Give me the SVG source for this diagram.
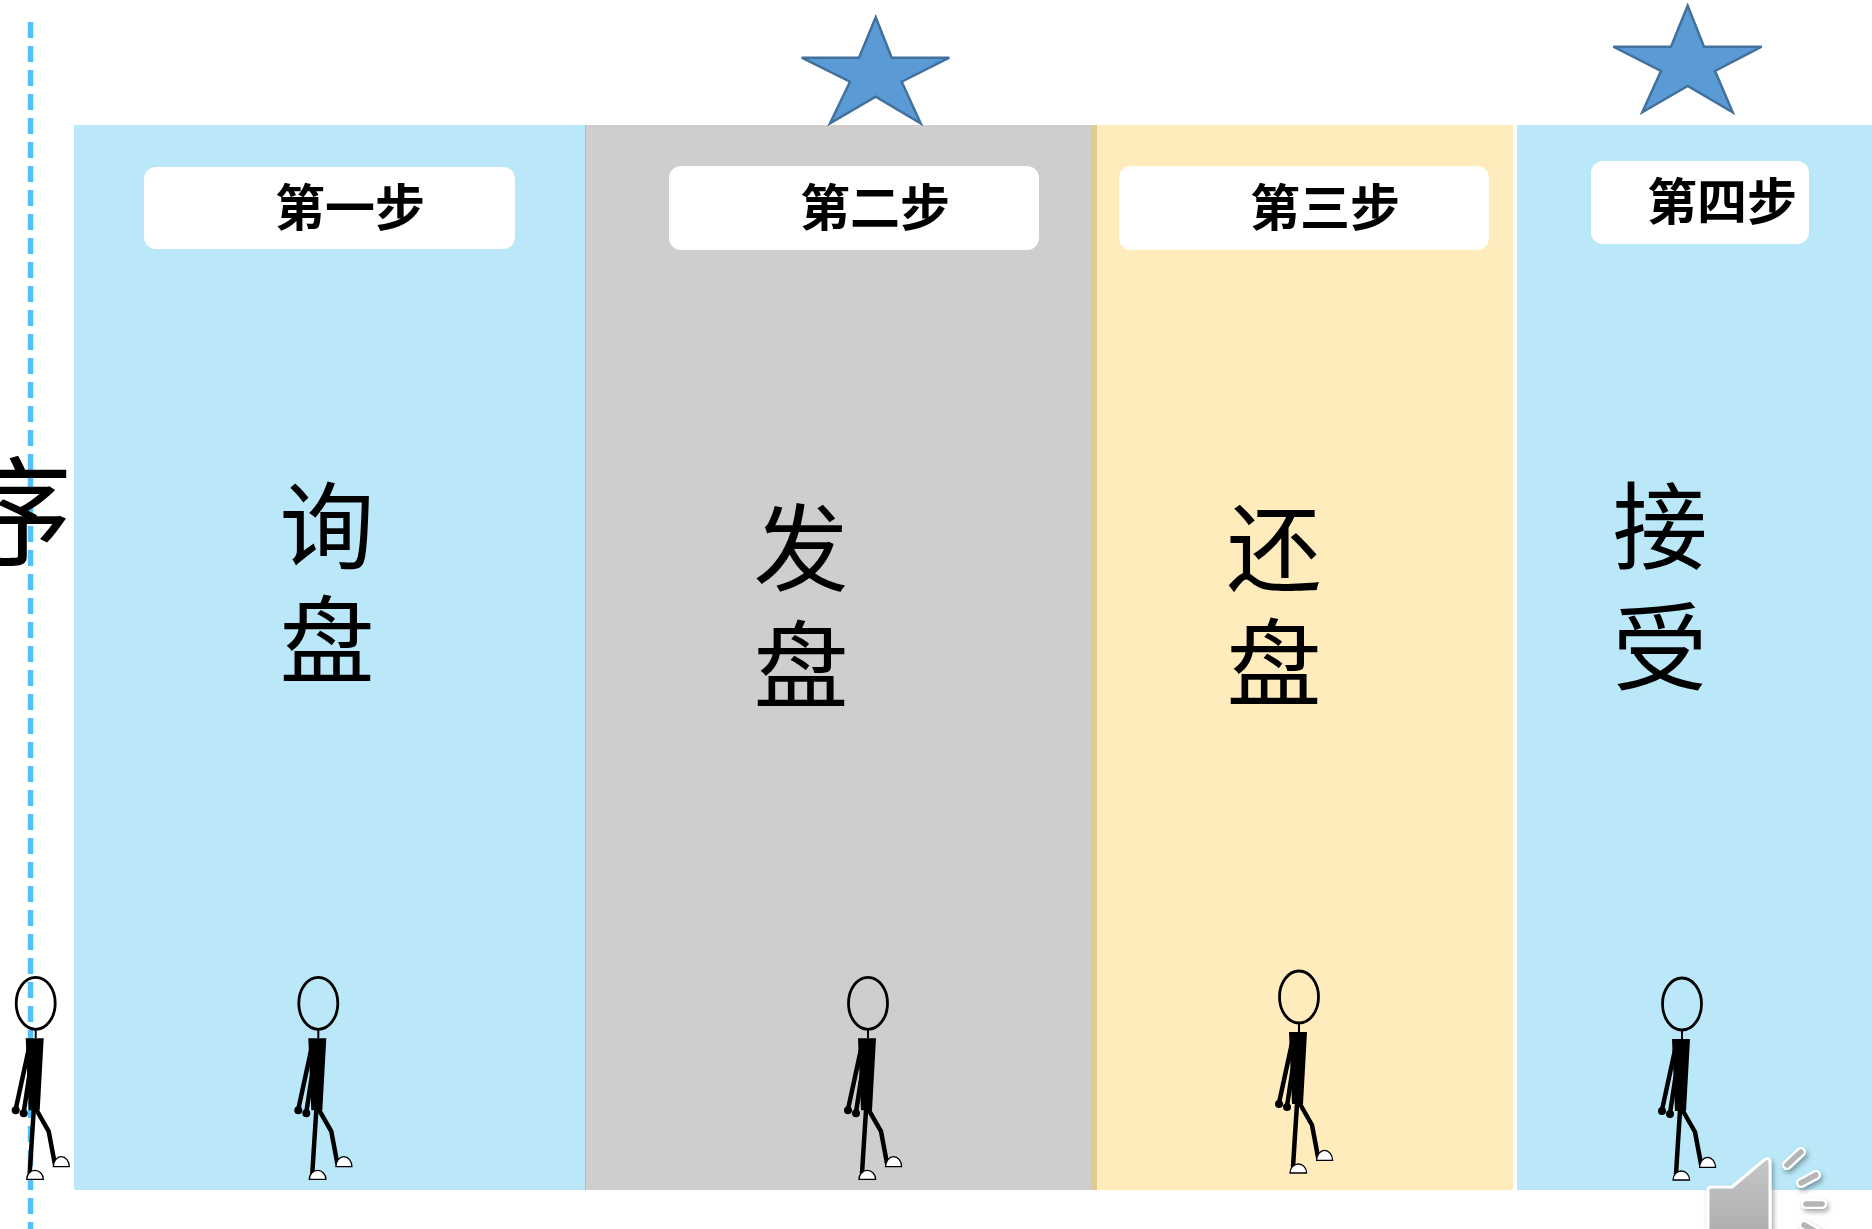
<svg xmlns="http://www.w3.org/2000/svg" xmlns:xlink="http://www.w3.org/1999/xlink" width="1872" height="1229" viewBox="0 0 1872 1229">
  <style>
    .step { fill: #ffffff; }
    .step-text { font-family: 'Noto Sans CJK SC', sans-serif; font-weight: 700; font-size: 50px; fill: #000; text-anchor: middle; }
    .big { font-family: 'Noto Sans CJK SC', sans-serif; font-weight: 400; font-size: 95px; fill: #000; writing-mode: vertical-rl; text-anchor: start; }
    .star { fill: #5B9BD5; stroke: #41719C; stroke-width: 2.5; stroke-linejoin: miter; }
    .limb { stroke: #000; stroke-width: 4.5; stroke-linecap: round; stroke-linejoin: round; fill: none; }
    .shoe { fill: #fff; stroke: #000; stroke-width: 1.3; }
  </style>
  <defs>
    <!-- walking stick figure, origin at the centre of the head -->
    <symbol id="walker" overflow="visible">
      <ellipse cx="0" cy="0" rx="19.5" ry="26" fill="none" stroke="#000" stroke-width="2.8"/>
      <line x1="0" y1="26" x2="0" y2="35" stroke="#000" stroke-width="2"/>
      <line class="limb" x1="-7" y1="46" x2="-20" y2="106"/>
      <line class="limb" x1="-3" y1="50" x2="-12" y2="109"/>
      <circle cx="-20" cy="107" r="4"/>
      <circle cx="-12" cy="110" r="4"/>
      <path d="M-10,35 L8,35 L4,107 L-7,107 Z" fill="#000"/>
      <polyline class="limb" points="-2,107 -4,138 -6,170"/>
      <polyline class="limb" points="1,107 13,128 19,160"/>
      <path class="shoe" d="M-9,176 A8.3,9 0 0 1 7.6,176 Z"/>
      <path class="shoe" d="M17.6,163.4 A8,10 0 0 1 33.6,163.4 Z"/>
    </symbol>
    <linearGradient id="spk" x1="0" y1="0" x2="0" y2="1">
      <stop offset="0" stop-color="#c4c6c8"/>
      <stop offset="1" stop-color="#a9abad"/>
    </linearGradient>
    <filter id="shadow" x="-30%" y="-30%" width="160%" height="160%">
      <feDropShadow dx="2" dy="3" stdDeviation="2.5" flood-color="#000" flood-opacity="0.35"/>
    </filter>
  </defs>

  <rect width="1872" height="1229" fill="#ffffff"/>

  <!-- column backgrounds -->
  <g id="panel-1"><rect x="74" y="125" width="511" height="1065" fill="#BAE8F8"/></g>
  <g id="panel-2">
    <rect x="585" y="125" width="506" height="1065" fill="#CFCECD"/>
    <line x1="585.5" y1="125" x2="585.5" y2="1190" stroke="#B8B8B8" stroke-width="1"/>
  </g>
  <g id="panel-3">
    <rect x="1091" y="125" width="6" height="1065" fill="#DECB91"/>
    <rect x="1097" y="125" width="416" height="1065" fill="#FFECBC"/>
  </g>
  <g id="panel-4"><rect x="1517" y="125" width="355" height="1065" fill="#BAE8F8"/></g>

  <!-- vertical guide -->
  <g id="guides">
    <line x1="30.5" y1="22" x2="30.5" y2="1229" stroke="#4FC3F7" stroke-width="5.5" stroke-dasharray="16 8"/>
  </g>

  <!-- title character running off the left edge -->
  <g id="side-title">
    <text x="-46" y="556" font-family="'Noto Sans CJK SC', sans-serif" font-weight="400" font-size="118" fill="#000">序</text>
  </g>

  <!-- step labels -->
  <g id="step-1">
    <rect class="step" x="144" y="167" width="371" height="82" rx="12"/>
    <text class="step-text" x="350" y="226">第一步</text>
  </g>
  <g id="step-2">
    <rect class="step" x="669" y="166" width="370" height="84" rx="12"/>
    <text class="step-text" x="875" y="226">第二步</text>
  </g>
  <g id="step-3">
    <rect class="step" x="1119" y="166" width="370" height="84" rx="12"/>
    <text class="step-text" x="1325" y="226">第三步</text>
  </g>
  <g id="step-4">
    <rect class="step" x="1591" y="161" width="218" height="83" rx="12"/>
    <text class="step-text" x="1722" y="220">第四步</text>
  </g>

  <!-- stage names, set vertically -->
  <g id="stage-1"><text class="big" x="327" y="478" letter-spacing="19">询盘</text></g>
  <g id="stage-2"><text class="big" x="801" y="500" letter-spacing="22">发盘</text></g>
  <g id="stage-3"><text class="big" x="1274" y="500" letter-spacing="20">还盘</text></g>
  <g id="stage-4"><text class="big" x="1660" y="478" letter-spacing="26">接受</text></g>

  <!-- stars -->
  <g id="star-1">
    <polygon class="star" points="875.7,17.3 891.7,57.7 949.3,57.7 901.7,81.7 920.7,123.3 875.7,96.7 830,123.3 850,81.7 801.7,57.7 859,57.7"/>
  </g>
  <g id="star-2">
    <polygon class="star" points="1687.7,5.7 1704,46.7 1761.7,46.7 1715,71 1732.7,112.3 1687.7,86 1642.3,112.3 1661,71 1613.3,46.7 1671,46.7"/>
  </g>

  <!-- walkers -->
  <g id="walker-1"><use xlink:href="#walker" href="#walker" x="35.7" y="1003.3"/></g>
  <g id="walker-2"><use xlink:href="#walker" href="#walker" x="318.3" y="1003.3"/></g>
  <g id="walker-3"><use xlink:href="#walker" href="#walker" x="868" y="1003.3"/></g>
  <g id="walker-4"><use xlink:href="#walker" href="#walker" x="1299" y="997"/></g>
  <g id="walker-5"><use xlink:href="#walker" href="#walker" x="1682" y="1004"/></g>

  <!-- audio icon -->
  <g id="audio-icon" filter="url(#shadow)">
    <path d="M1711,1187 L1732,1187 L1764,1160 Q1770,1156 1770,1163 L1770,1245 L1708,1245 L1708,1190 Q1708,1187 1711,1187 Z" fill="url(#spk)" stroke="#ffffff" stroke-width="3" stroke-linejoin="round"/>
    <g stroke-linecap="round">
      <line x1="1787" y1="1165" x2="1801" y2="1152" stroke="#ffffff" stroke-width="10"/>
      <line x1="1787" y1="1165" x2="1801" y2="1152" stroke="#b3b5b7" stroke-width="5.5"/>
      <line x1="1801" y1="1183" x2="1816" y2="1175" stroke="#ffffff" stroke-width="10"/>
      <line x1="1801" y1="1183" x2="1816" y2="1175" stroke="#b3b5b7" stroke-width="5.5"/>
      <line x1="1806" y1="1204" x2="1822" y2="1204" stroke="#ffffff" stroke-width="10"/>
      <line x1="1806" y1="1204" x2="1822" y2="1204" stroke="#b3b5b7" stroke-width="5.5"/>
      <line x1="1804" y1="1225" x2="1818" y2="1233" stroke="#ffffff" stroke-width="10"/>
      <line x1="1804" y1="1225" x2="1818" y2="1233" stroke="#b3b5b7" stroke-width="5.5"/>
    </g>
  </g>
</svg>
